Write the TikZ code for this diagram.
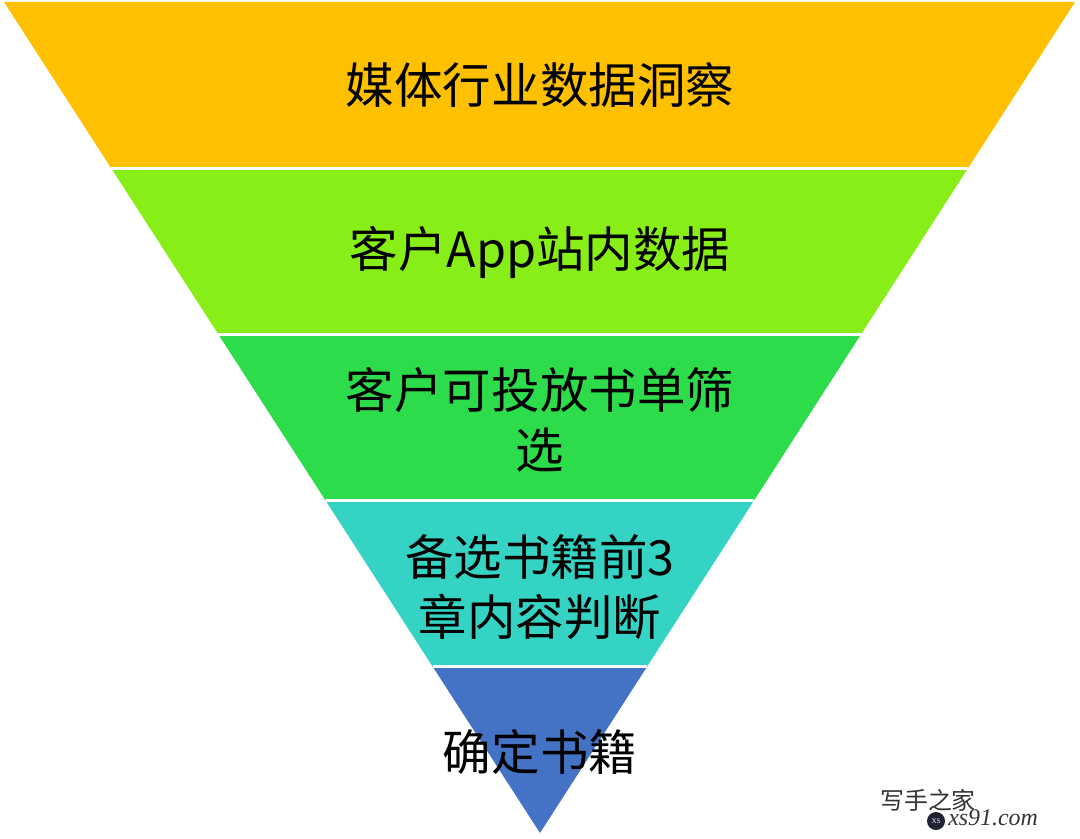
\documentclass[tikz,border=0pt]{standalone}
\usepackage{fontspec}
\newfontfamily\cjk{Noto Sans CJK SC}
\newfontfamily\wmserif{Liberation Serif}
\usetikzlibrary{calc}
\definecolor{bandorange}{HTML}{FFC000}
\definecolor{bandlime}{HTML}{88EE17}
\definecolor{bandgreen}{HTML}{2DDC4B}
\definecolor{bandteal}{HTML}{34D3C4}
\definecolor{bandblue}{HTML}{4472C4}
\definecolor{wmnavy}{HTML}{1E2233}

\begin{document}
\begin{tikzpicture}[
  x=0.025cm, y=-0.025cm,
  bandtext/.style={font=\cjk\fontsize{34.5}{42.6}\selectfont, align=center, inner sep=0pt},
  gap/.style={draw=white, line width=2pt},
  wmark/.style={font=\cjk\fontsize{17}{19}\selectfont, text=black!80, inner sep=0pt}
]
\useasboundingbox (0,0) rectangle (1080,839);

\coordinate (tl) at (4,2);
\coordinate (tr) at (1075,2);
\coordinate (apex) at (540,833);

% funnel bands, top to bottom
\foreach \c [count=\i from 0] in {bandorange,bandlime,bandgreen,bandteal,bandblue} {
  \pgfmathsetmacro\ta{\i/5}
  \pgfmathsetmacro\tb{(\i+1)/5}
  \fill[\c] ($(tl)!\ta!(apex)$) -- ($(tr)!\ta!(apex)$)
    -- ($(tr)!\tb!(apex)$) -- ($(tl)!\tb!(apex)$) -- cycle;
}
\foreach \i in {1,...,4} {
  \pgfmathsetmacro\ta{\i/5}
  \draw[gap] ($(tl)!\ta!(apex)$) -- ($(tr)!\ta!(apex)$);
}

\node[bandtext] (media) at (540,85) {媒体行业数据洞察};
\node[bandtext] (appdata) at (540,252) {客户App站内数据};
\node[bandtext] (booklist) at (540,420) {客户可投放书单筛\\选};
\node[bandtext] (chapters) at (540,587) {备选书籍前3\\章内容判断};
\node[bandtext] (final) at (540,752) {确定书籍};

% watermark
\node[wmark] (wmtext) at (928,800) {写手之家};
\node[circle, fill=wmnavy, minimum size=0.45cm, inner sep=0pt,
  text=white, font=\wmserif\fontsize{5}{5}\selectfont] (wmlogo) at (936,821) {XS};
\node[font=\wmserif\itshape\fontsize{17}{19}\selectfont, text=black!80,
  inner sep=0pt, anchor=west] (wmsite) at (948,818) {xs91.com};
\end{tikzpicture}
\end{document}
